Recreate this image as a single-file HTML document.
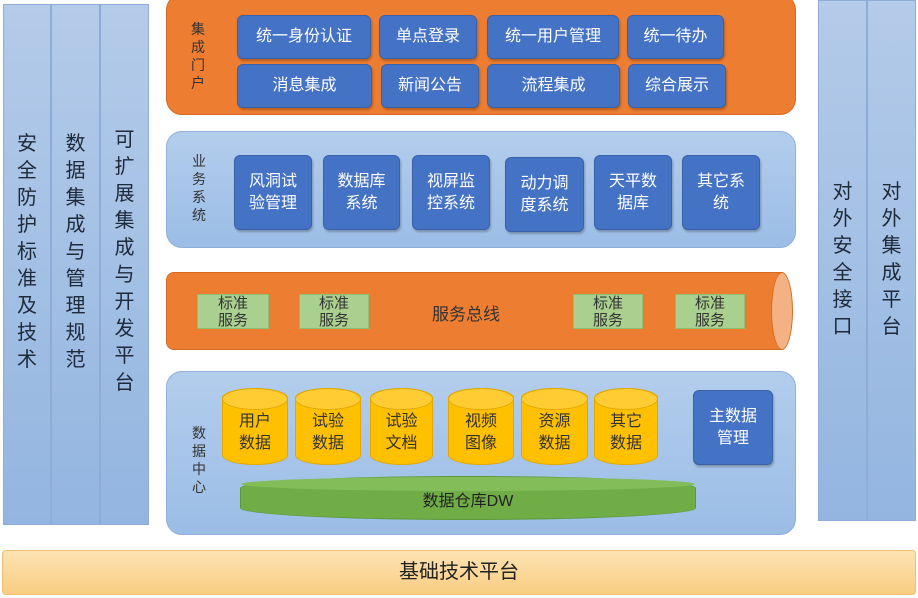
<!DOCTYPE html>
<html><head><meta charset="utf-8"><style>
*{margin:0;padding:0;box-sizing:border-box}
body{width:918px;height:598px;background:#fff;position:relative;overflow:hidden;font-family:"Liberation Sans","Noto Sans CJK SC",sans-serif}
.a{position:absolute}
.col{position:absolute;background:linear-gradient(#b4cbe9,#93b5e0);border:1px solid #8eacd6;display:flex;justify-content:center}
.vt{width:22px;font-size:20px;line-height:27px;color:#1e2a3a;text-align:center;word-break:break-all}
.panel{position:absolute;border-radius:16px}
.bb{position:absolute;background:#4472c4;border:1px solid #3a62a8;border-radius:6px;color:#fff;font-size:16px;display:flex;align-items:center;justify-content:center;text-align:center;line-height:22px;box-shadow:1px 2px 2px rgba(0,0,0,.25)}
.lab{position:absolute;width:16px;font-size:14px;line-height:18px;color:#333;text-align:center}
.gs{position:absolute;background:#a9d08e;border:1px solid #8fbf73;color:#333;font-size:15px;line-height:17px;text-align:center;padding-top:0}
.cy{position:absolute;background:#ffc000;border:1px solid #e0a800;border-radius:50%/10px;color:#333;font-size:16px;line-height:22px;text-align:center;padding-top:22px}
.cy:before{content:"";position:absolute;left:-1px;right:-1px;top:-1px;height:20px;border-radius:50%;background:#ffcc33;border:1px solid #e0a800}
</style></head><body>
<div class="col" style="left:3px;top:4px;width:48px;height:521px;padding-top:126px"><div class="vt">安全防护标准及技术</div></div>
<div class="col" style="left:51px;top:4px;width:49px;height:521px;padding-top:126px"><div class="vt">数据集成与管理规范</div></div>
<div class="col" style="left:100px;top:4px;width:49px;height:521px;padding-top:122px"><div class="vt">可扩展集成与开发平台</div></div>
<div class="col" style="left:818px;top:0;width:49px;height:521px;padding-top:178px"><div class="vt">对外安全接口</div></div>
<div class="col" style="left:867px;top:0;width:49px;height:521px;padding-top:178px"><div class="vt">对外集成平台</div></div>

<div class="a" style="left:2px;top:550px;width:914px;height:45px;background:linear-gradient(#fde3b3,#f9cd82);border:1px solid #f0c070;border-radius:4px;font-size:20px;color:#222;text-align:center;line-height:43px">基础技术平台</div>

<!-- portal -->
<div class="panel" style="left:166px;top:-6px;width:630px;height:121px;background:#ed7d31;border:1px solid #d86a20"></div>
<div class="lab" style="left:190px;top:20px">集成门户</div>
<div class="bb" style="left:237px;top:15px;width:134px;height:44px">统一身份认证</div>
<div class="bb" style="left:379px;top:15px;width:98px;height:44px">单点登录</div>
<div class="bb" style="left:487px;top:15px;width:132px;height:44px">统一用户管理</div>
<div class="bb" style="left:627px;top:15px;width:97px;height:44px">统一待办</div>
<div class="bb" style="left:237px;top:64px;width:135px;height:44px">消息集成</div>
<div class="bb" style="left:381px;top:64px;width:98px;height:44px">新闻公告</div>
<div class="bb" style="left:487px;top:64px;width:133px;height:44px">流程集成</div>
<div class="bb" style="left:628px;top:64px;width:98px;height:44px">综合展示</div>

<!-- business -->
<div class="panel" style="left:166px;top:131px;width:630px;height:117px;background:linear-gradient(#b3cdec,#9bbde6);border:1px solid #8fb0da"></div>
<div class="lab" style="left:191px;top:152px">业务系统</div>
<div class="bb" style="left:234px;top:155px;width:78px;height:75px">风洞试<br>验管理</div>
<div class="bb" style="left:323px;top:155px;width:77px;height:75px">数据库<br>系统</div>
<div class="bb" style="left:412px;top:155px;width:78px;height:75px">视屏监<br>控系统</div>
<div class="bb" style="left:505px;top:157px;width:79px;height:75px">动力调<br>度系统</div>
<div class="bb" style="left:594px;top:155px;width:78px;height:75px">天平数<br>据库</div>
<div class="bb" style="left:682px;top:155px;width:78px;height:75px">其它系<br>统</div>

<!-- bus -->
<div class="a" style="left:166px;top:272px;width:616px;height:78px;background:#ed7d31;border:1px solid #d86a20;border-radius:8px 0 0 8px"></div>
<div class="a" style="left:771px;top:272px;width:22px;height:78px;background:#f4b183;border:1px solid #d86a20;border-radius:50%"></div>
<div class="a" style="left:432px;top:300px;font-size:17px;color:#333">服务总线</div>
<div class="gs" style="left:197px;top:294px;width:72px;height:35px">标准<br>服务</div>
<div class="gs" style="left:299px;top:294px;width:70px;height:35px">标准<br>服务</div>
<div class="gs" style="left:573px;top:294px;width:70px;height:35px">标准<br>服务</div>
<div class="gs" style="left:675px;top:294px;width:70px;height:35px">标准<br>服务</div>

<!-- data center -->
<div class="panel" style="left:166px;top:371px;width:630px;height:164px;background:linear-gradient(#b3cdec,#9bbde6);border:1px solid #8fb0da"></div>
<div class="lab" style="left:191px;top:424px">数据中心</div>
<div class="cy" style="left:222px;top:388px;width:66px;height:77px"><span style="position:relative">用户<br>数据</span></div>
<div class="cy" style="left:295px;top:388px;width:66px;height:77px"><span style="position:relative">试验<br>数据</span></div>
<div class="cy" style="left:370px;top:388px;width:63px;height:77px"><span style="position:relative">试验<br>文档</span></div>
<div class="cy" style="left:448px;top:388px;width:66px;height:77px"><span style="position:relative">视频<br>图像</span></div>
<div class="cy" style="left:521px;top:388px;width:67px;height:77px"><span style="position:relative">资源<br>数据</span></div>
<div class="cy" style="left:594px;top:388px;width:64px;height:77px"><span style="position:relative">其它<br>数据</span></div>
<div class="bb" style="left:693px;top:390px;width:80px;height:75px">主数据<br>管理</div>
<div class="a" style="left:240px;top:476px;width:456px;height:44px;background:#70ad47;border:1px solid #5e9a3a;border-radius:50%/12px;color:#222;font-size:16px;text-align:center;line-height:50px">数据仓库DW</div>
<div class="a" style="left:241px;top:477px;width:454px;height:14px;background:#82bd5a;border-radius:50%"></div>
</body></html>
